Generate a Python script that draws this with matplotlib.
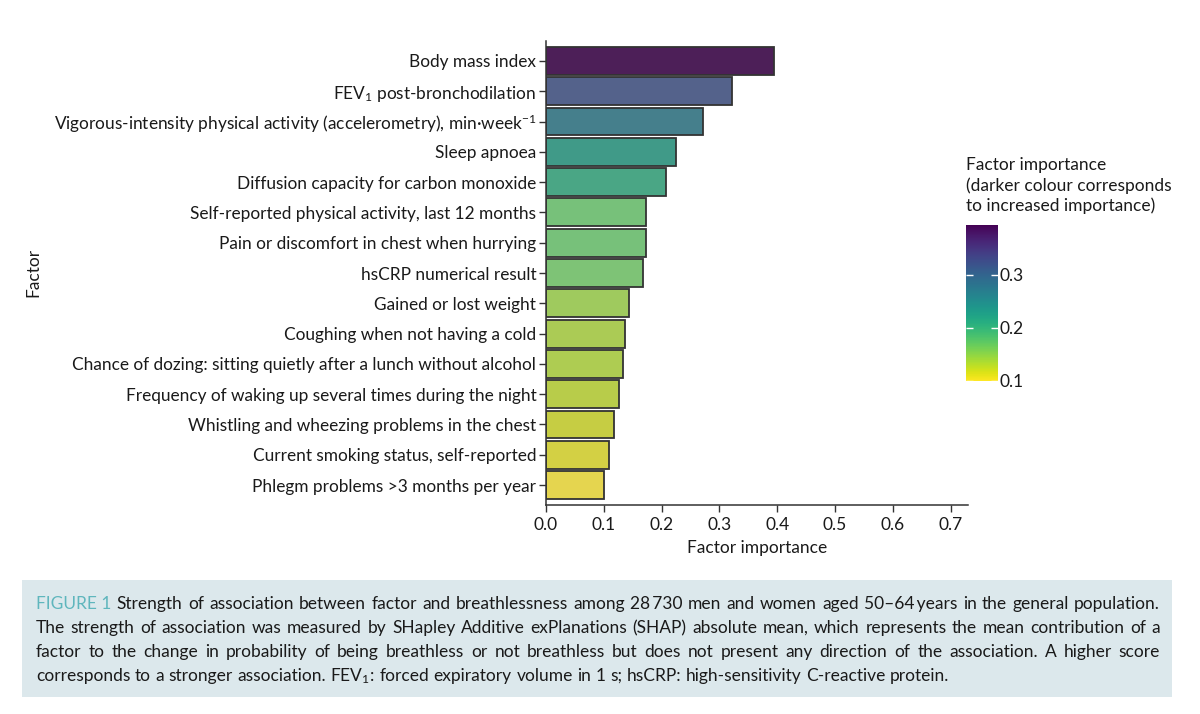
import matplotlib
matplotlib.use("Agg")
import matplotlib.pyplot as plt
import matplotlib.colors as mcolors
import matplotlib.cm as cm
import numpy as np
import colorsys
from matplotlib.patches import Rectangle

FONT = "Lato"
plt.rcParams['font.family'] = [FONT, 'DejaVu Sans']
plt.rcParams['mathtext.fontset'] = 'custom'
plt.rcParams['mathtext.rm'] = FONT
plt.rcParams['mathtext.it'] = FONT + ':italic'
plt.rcParams['mathtext.default'] = 'rm'

factors = [
    "Body mass index",
    "FEV$_1$ post-bronchodilation",
    "Vigorous-intensity physical activity (accelerometry), min·week$^{-1}$",
    "Sleep apnoea",
    "Diffusion capacity for carbon monoxide",
    "Self-reported physical activity, last 12 months",
    "Pain or discomfort in chest when hurrying",
    "hsCRP numerical result",
    "Gained or lost weight",
    "Coughing when not having a cold",
    "Chance of dozing: sitting quietly after a lunch without alcohol",
    "Frequency of waking up several times during the night",
    "Whistling and wheezing problems in the chest",
    "Current smoking status, self-reported",
    "Phlegm problems >3 months per year",
]
importance = [0.394, 0.322, 0.272, 0.225, 0.208, 0.173, 0.173, 0.1675,
              0.144, 0.136, 0.133, 0.126, 0.117, 0.109, 0.0995]
xticks = [0.0, 0.1, 0.2, 0.3, 0.4, 0.5, 0.6, 0.7]
cbar_ticks = [0.1, 0.2, 0.3]

caption_lines = [
    "FIGURE 1 Strength of association between factor and breathlessness among 28\u2009730 men and women aged 50–64\u2009years in the general population.",
    "The strength of association was measured by SHapley Additive exPlanations (SHAP) absolute mean, which represents the mean contribution of a",
    "factor to the change in probability of being breathless or not breathless but does not present any direction of the association. A higher score",
    "corresponds to a stronger association. FEV$_1$: forced expiratory volume in 1 s; hsCRP: high-sensitivity C-reactive protein.",
]


def desaturate(color, prop, blend=0.92):
    r, g, b = mcolors.to_rgb(color)
    h, l, s = colorsys.rgb_to_hls(r, g, b)
    r, g, b = colorsys.hls_to_rgb(h, l, s * prop)
    return tuple(c * blend + (1 - blend) for c in (r, g, b))


W, H = 1200, 714
fig = plt.figure(figsize=(W / 100, H / 100), dpi=100)
ax = fig.add_axes([546 / W, 1 - 505 / H, (968 - 546) / W, (505 - 41) / H])

vmin, vmax = min(importance), max(importance)
norm = mcolors.Normalize(vmin=vmin, vmax=vmax)
cmap = plt.get_cmap('viridis_r')
colors = [desaturate(cmap(norm(v)), 0.75) for v in importance]

y = np.arange(len(factors))
ax.barh(y, importance, height=0.92, color=colors, edgecolor='#333333', linewidth=1.3)
ax.set_ylim(len(factors) - 1 + 0.66, -0.66)
ax.set_xlim(0, 0.73)
ax.set_yticks(y)
ax.set_yticklabels(factors, fontsize=12.4, color='#1a1a1a')
ax.set_xticks(xticks)
ax.set_xticklabels([f"{t:.1f}" for t in xticks], fontsize=12.5, color='#1a1a1a')
ax.tick_params(axis='both', length=5, width=1.0, color='#333333', pad=2)
ax.tick_params(axis='x', pad=4)
for s in ['top', 'right']:
    ax.spines[s].set_visible(False)
for s in ['left', 'bottom']:
    ax.spines[s].set_color('#333333')
    ax.spines[s].set_linewidth(1.1)
ax.set_xlabel("Factor importance", fontsize=12.5, color='#1a1a1a', labelpad=5)

fig.text(33 / W, 1 - 272 / H, "Factor", rotation=90, ha='center', va='center',
         fontsize=12.5, color='#1a1a1a')

# colorbar
cax = fig.add_axes([966 / W, 1 - 381 / H, 32 / W, 156 / H])
sm = cm.ScalarMappable(norm=norm, cmap=cmap)
cb = fig.colorbar(sm, cax=cax, ticks=cbar_ticks)
cb.outline.set_visible(False)
cb.ax.set_yticklabels([f"{t:.1f}" for t in cbar_ticks], fontsize=12.5, color='#1a1a1a')
cb.ax.tick_params(left=True, right=True, direction='in', length=5, width=1.0,
                  color='white', pad=1)
fig.text(966 / W, 1 - 157 / H,
         "Factor importance\n(darker colour corresponds\nto increased importance)",
         ha='left', va='top', fontsize=12.5, color='#1a1a1a', linespacing=1.3)

# caption box
fig.patches.append(Rectangle((22 / W, 1 - 697 / H), 1150 / W, 117 / H,
                             transform=fig.transFigure, facecolor='#dce8ec',
                             edgecolor='none', zorder=0))

renderer = fig.canvas.get_renderer()
x0, x1 = 36, 1160
line_y = [604, 628, 652, 676]
cap_fs = 12.5


def text_width(s, **kw):
    t = fig.text(0, 0, s, fontsize=cap_fs, **kw)
    w = t.get_window_extent(renderer).width
    t.remove()
    return w


space_w = text_width("a a") - text_width("aa")
for i, line in enumerate(caption_lines):
    words = line.split(" ")
    tokens = []
    if i == 0:
        tokens.append(("FIGURE\u00a01", '#5fb6bd'))
        words = words[2:]
    for w_ in words:
        tokens.append((w_, '#1a1a1a'))
    widths = [text_width(t) for t, c in tokens]
    if i < len(caption_lines) - 1:
        gap = (x1 - x0 - sum(widths)) / (len(tokens) - 1)
    else:
        gap = space_w
    x = x0
    for (t, c), wd in zip(tokens, widths):
        fig.text(x / W, 1 - line_y[i] / H, t, fontsize=cap_fs, color=c,
                 ha='left', va='center')
        x += wd + gap

fig.savefig("out.png", dpi=100)
